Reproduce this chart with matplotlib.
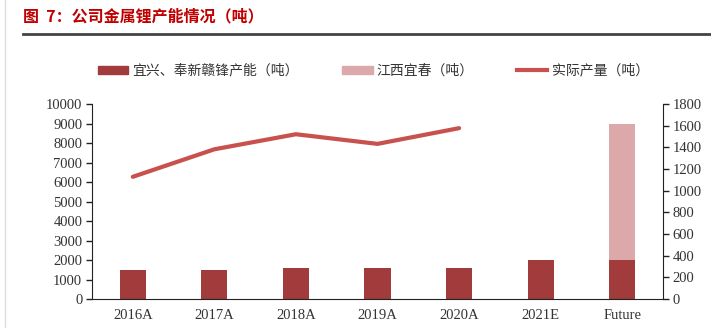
import numpy as np
import matplotlib.pyplot as plt
from matplotlib.lines import Line2D

plt.rcParams['font.family'] = ['Noto Sans CJK SC', 'DejaVu Sans']

years = ['2016A', '2017A', '2018A', '2019A', '2020A', '2021E', 'Future']
yixing = [1500, 1500, 1600, 1600, 1600, 2000, 2000]
jiangxi = [0, 0, 0, 0, 0, 0, 7000]
output = [1128, 1382, 1521, 1432, 1577]

dark = '#A23B3B'
pink = '#DBA9A9'
line_c = '#C8504D'

fig = plt.figure(figsize=(7.11, 3.28), dpi=100)
ax = fig.add_axes([0.1294, 0.0884, 0.8031, 0.5945])
ax2 = ax.twinx()

x = np.arange(len(years))
ax.bar(x, yixing, width=0.32, color=dark, zorder=2)
ax.bar(x, jiangxi, width=0.32, bottom=yixing, color=pink, zorder=2)
ax2.plot(x[:len(output)], output, color=line_c, lw=3, solid_capstyle='round')

ax.set_xlim(-0.5, len(years) - 0.5)
ax.set_ylim(0, 10000)
ax.set_yticks(np.arange(0, 10001, 1000))
ax2.set_ylim(0, 1800)
ax2.set_yticks(np.arange(0, 1801, 200))
ax.set_xticks(x)
ax.set_xticklabels(years)

for a in (ax, ax2):
    a.spines['top'].set_visible(False)
    for lab in a.get_yticklabels():
        lab.set_fontproperties('Liberation Serif')
        lab.set_fontsize(10.5)
        lab.set_color('#333333')
    a.tick_params(axis='y', length=4, width=1, color='#222222', pad=3)
for lab in ax.get_xticklabels():
    lab.set_fontproperties('Liberation Serif')
    lab.set_fontsize(10.5)
    lab.set_color('#333333')
ax.tick_params(axis='x', length=0, pad=7)
ax.spines['left'].set_color('#222222')
ax.spines['bottom'].set_color('#222222')
ax2.spines['right'].set_color('#222222')
ax2.spines['left'].set_visible(False)
ax2.spines['bottom'].set_visible(False)
ax.spines['right'].set_visible(False)

handles = [plt.Rectangle((0, 0), 1, 1, color=dark),
           plt.Rectangle((0, 0), 1, 1, color=pink),
           Line2D([0], [0], color=line_c, lw=3)]
labels = ['宜兴、奉新赣锋产能（吨）', '江西宜春（吨）', '实际产量（吨）']
fig.legend(handles, labels, loc='center', bbox_to_anchor=(0.525, 0.784), ncol=3,
           frameon=False, fontsize=10, handlelength=2.2, handleheight=0.6,
           columnspacing=3.1, handletextpad=0.3, labelcolor='#333333')

fig.text(0.032, 0.95, '图  7：公司金属锂产能情况（吨）', color='#C00000',
         fontsize=11.5, fontweight='bold', va='center')
fig.add_artist(Line2D([0.032, 1.0], [0.897, 0.897], color='#444444', lw=2))
fig.add_artist(Line2D([0.007, 0.007], [0.0, 1.0], color='#dddddd', lw=1))

fig.savefig('out.png', dpi=100)
